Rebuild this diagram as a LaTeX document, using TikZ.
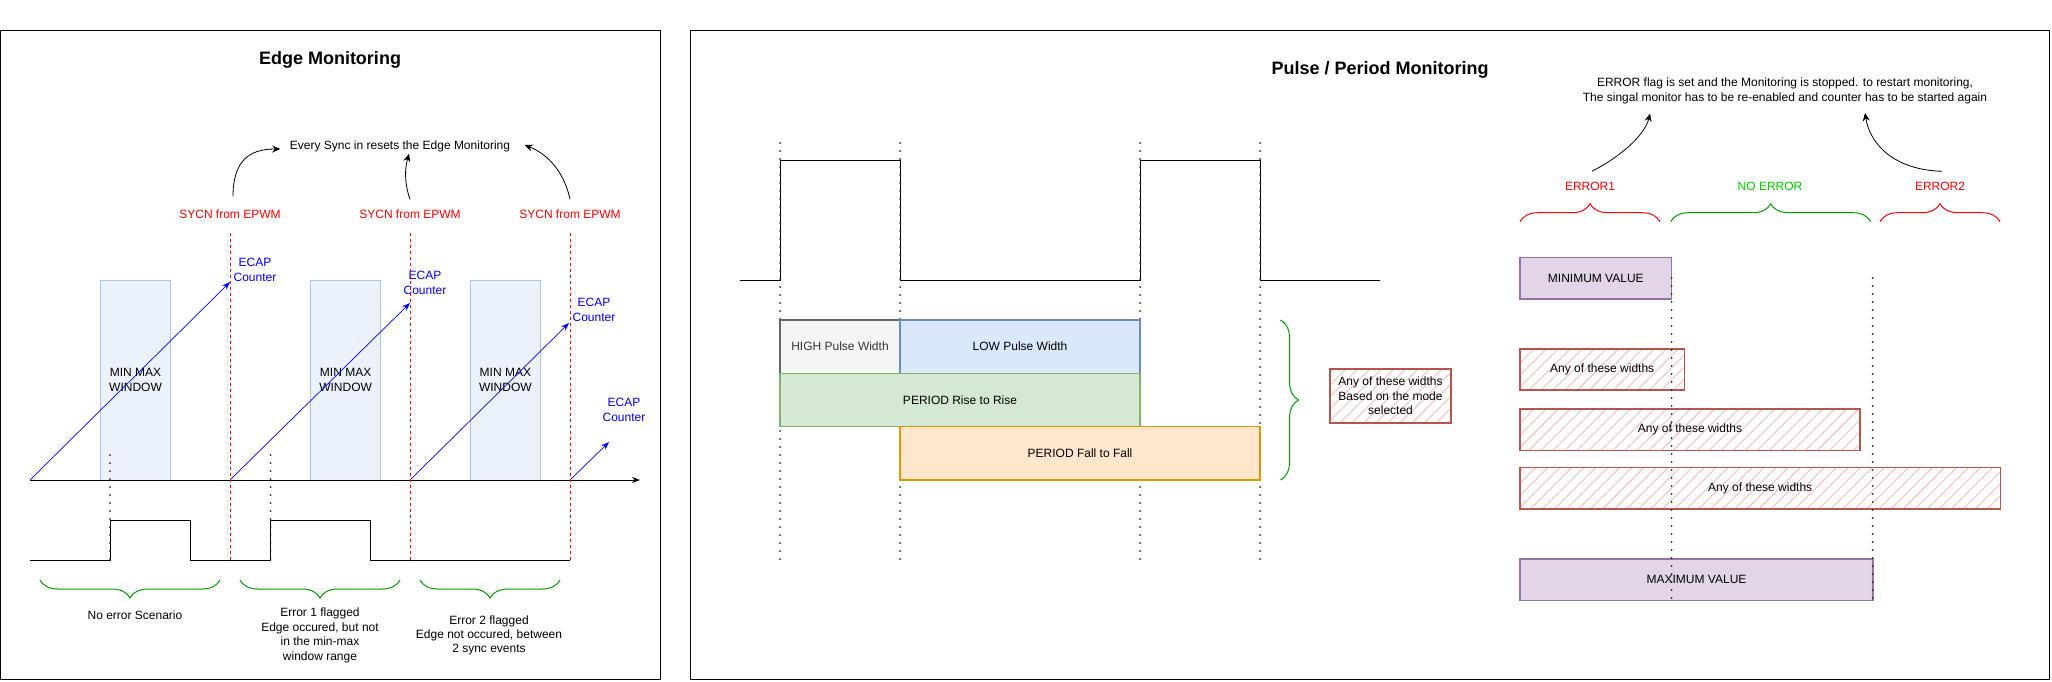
\documentclass[tikz,border=0pt]{standalone}
\usepackage{fontspec}
\setmainfont{Liberation Sans}
\usetikzlibrary{arrows.meta,decorations.pathreplacing,patterns.meta}
\definecolor{winfill}{HTML}{EBF2FC}
\definecolor{windraw}{HTML}{A9C4E6}
\definecolor{syncred}{HTML}{FF0000}
\definecolor{ecapblue}{HTML}{0000FF}
\definecolor{bracegreen}{HTML}{009900}
\definecolor{okgreen}{HTML}{00CC00}
\definecolor{highfill}{HTML}{F5F5F5}
\definecolor{highdraw}{HTML}{666666}
\definecolor{hightext}{HTML}{333333}
\definecolor{lowfill}{HTML}{DAE8FC}
\definecolor{lowdraw}{HTML}{6C8EBF}
\definecolor{risefill}{HTML}{D5E8D4}
\definecolor{risedraw}{HTML}{82B366}
\definecolor{fallfill}{HTML}{FFE6CC}
\definecolor{falldraw}{HTML}{D79B00}
\definecolor{hatchdraw}{HTML}{B85450}
\definecolor{hatchline}{HTML}{F6C4C2}
\definecolor{limfill}{HTML}{E1D5E7}
\definecolor{limdraw}{HTML}{9673A6}
\begin{document}
\begin{tikzpicture}[x=1pt,y=-1pt,font=\fontsize{12}{14.4}\selectfont,
  frame/.style={draw=black,line width=1pt},
  title/.style={font=\fontsize{18}{21.6}\selectfont\bfseries},
  txt/.style={align=center,inner sep=2pt},
  wave/.style={line width=1pt},
  syncline/.style={draw=syncred,line width=1pt,dash pattern=on 3pt off 3pt},
  dotline/.style={line width=2pt,line cap=round,dash pattern=on 0pt off 8pt,black!85},
  ramp/.style={draw=ecapblue,line width=0.7pt,-{Stealth[length=8pt,width=6pt]}},
  curvearrow/.style={line width=0.8pt,-{Stealth[length=8pt,width=7pt]}},
  winbox/.style={draw=windraw,fill=winfill,minimum width=70pt,minimum height=200pt,align=center},
  bar/.style={line width=1.5pt,minimum height=53.3pt,inner sep=0pt},
  hatchbox/.style={draw=hatchdraw,line width=1.5pt,align=center,inner sep=0pt,
    pattern={Lines[angle=45,distance=8.5pt,line width=1.1pt]},pattern color=hatchline},
  limbox/.style={draw=limdraw,fill=limfill,line width=1.5pt,minimum height=41.5pt,inner sep=0pt},
  brace/.style={decorate,decoration={brace,amplitude=18pt},line width=1pt}
]
\useasboundingbox (0,0) rectangle (2052,681);

\draw[frame] (0.5,30.5) rectangle (660,679.5);
\node[title] (edgetitle) at (330,60) {Edge Monitoring};
\node[txt] (evsync) at (400,146) {Every Sync in resets the Edge Monitoring};
\foreach \n/\x in {1/135.5,2/345.6,3/505.4}
  \node[winbox] (win\n) at (\x,380) {MIN MAX\\WINDOW};
\coordinate (o1) at (30,480);
\coordinate (o2) at (230,480);
\coordinate (o3) at (410,480);
\coordinate (o4) at (570,480);
\coordinate (axisend) at (640,480);
\coordinate (t1) at (230,282);
\coordinate (t2) at (410,303);
\coordinate (t3) at (569,323);
\coordinate (t4) at (609,442);
\draw[wave,-{Stealth[length=8pt,width=6pt]}] (o1) -- (axisend);
\foreach \a/\b in {o1/t1,o2/t2,o3/t3,o4/t4}
  \draw[ramp] (\a) -- (\b);
\node[txt,text=ecapblue] (ecap1) at (255,270) {ECAP\\Counter};
\node[txt,text=ecapblue] (ecap2) at (425,283) {ECAP\\Counter};
\node[txt,text=ecapblue] (ecap3) at (594,310) {ECAP\\Counter};
\node[txt,text=ecapblue] (ecap4) at (624,410) {ECAP\\Counter};
\foreach \n/\x in {1/230,2/410,3/570} {
  \node[txt,text=syncred] (sy\n) at (\x,214) {SYCN from EPWM};
  \draw[syncline] (\x,233) -- (\x,560);
}
\draw[curvearrow] ([xshift=3pt,yshift=11pt]sy1.north) .. controls (233,160) and (250,149) .. ([xshift=-7.5pt,yshift=-3pt]evsync.west);
\draw[curvearrow] ([yshift=8pt]sy2.north) .. controls (404,182) and (405,168) .. ([xshift=9pt]evsync.south);
\draw[curvearrow] ([yshift=8pt]sy3.north) .. controls (565,175) and (550,155) .. ([xshift=12.5pt,yshift=1pt]evsync.east);
\draw[wave] (30,560) -- (110,560) -- (110,520) -- (190,520) -- (190,560) -- (270.6,560)
  -- (270.6,520) -- (370,520) -- (370,560) -- (570,560);
\foreach \x in {110,270.6}
  \draw[dotline] (\x,455) -- (\x,560);
\draw[brace,bracegreen] (220,580) -- (40,580);
\draw[brace,bracegreen] (400,580) -- (240,580);
\draw[brace,bracegreen] (560,580) -- (420,580);
\node[txt] (case1) at (135,615) {No error Scenario};
\node[txt] (case2) at (320,635.3) {Error 1 flagged\\Edge occured, but not\\in the min-max\\window range};
\node[txt] (case3) at (489,635.3) {Error 2 flagged\\Edge not occured, between\\2 sync events};

\draw[frame] (690,30.5) rectangle (2049,679.5);
\node[title] (pulsetitle) at (1380,70) {Pulse / Period Monitoring};
\draw[wave] (740,280) -- (780,280) -- (780,160) -- (900,160) -- (900,280) -- (1140,280)
  -- (1140,160) -- (1260,160) -- (1260,280) -- (1380,280);
\foreach \x in {780,900,1140,1260}
  \draw[dotline] (\x,143) -- (\x,560);
\node[bar,draw=highdraw,fill=highfill,text=hightext,minimum width=120pt] (high) at (840,346.7) {HIGH Pulse Width};
\node[bar,draw=lowdraw,fill=lowfill,minimum width=240pt] (low) at (1020,346.7) {LOW Pulse Width};
\node[bar,draw=risedraw,fill=risefill,minimum width=360pt] (rise) at (960,400) {PERIOD Rise to Rise};
\node[bar,draw=falldraw,fill=fallfill,minimum width=360pt] (fall) at (1080,453.3) {PERIOD Fall to Fall};
\draw[brace,bracegreen] (1280.5,320) -- (1280.5,480);
\node[hatchbox,minimum width=121pt,minimum height=54pt] (anymode) at (1390.5,396) {Any of these widths\\Based on the mode\\selected};

\node[txt] (errnote) at (1785,91) {ERROR flag is set and the Monitoring is stopped. to restart monitoring,\\The singal monitor has to be re-enabled and counter has to be started again};
\node[txt,text=syncred] (err1) at (1590,186.7) {ERROR1};
\node[txt,text=okgreen] (noerr) at (1770,186.7) {NO ERROR};
\node[txt,text=syncred] (err2) at (1940,186.7) {ERROR2};
\draw[curvearrow] ([xshift=2pt,yshift=9pt]err1.north) .. controls (1620,157) and (1645,135) .. ([xshift=-135pt,yshift=-7.5pt]errnote.south);
\draw[curvearrow] ([xshift=2pt,yshift=9pt]err2.north) .. controls (1895,170) and (1870,145) .. ([xshift=80pt,yshift=-7pt]errnote.south);
\draw[brace,syncred] (1520,221.7) -- (1660,221.7);
\draw[brace,bracegreen] (1670.7,221.7) -- (1870.7,221.7);
\draw[brace,syncred] (1880,221.7) -- (2000,221.7);
\node[limbox,minimum width=151.7pt] (minval) at (1595.8,278.2) {MINIMUM VALUE};
\node[hatchbox,minimum width=164.5pt,minimum height=41pt] (any1) at (1602.2,369.5) {Any of these widths};
\node[hatchbox,minimum width=340pt,minimum height=41.5pt] (any2) at (1690,429.8) {Any of these widths};
\node[hatchbox,minimum width=480.4pt,minimum height=41.3pt] (any3) at (1760.2,488.3) {Any of these widths};
\node[limbox,minimum width=353pt] (maxval) at (1696.5,579.8) {MAXIMUM VALUE};
\foreach \x in {1671.5,1872.5}
  \draw[dotline] (\x,278) -- (\x,600);
\end{tikzpicture}
\end{document}
